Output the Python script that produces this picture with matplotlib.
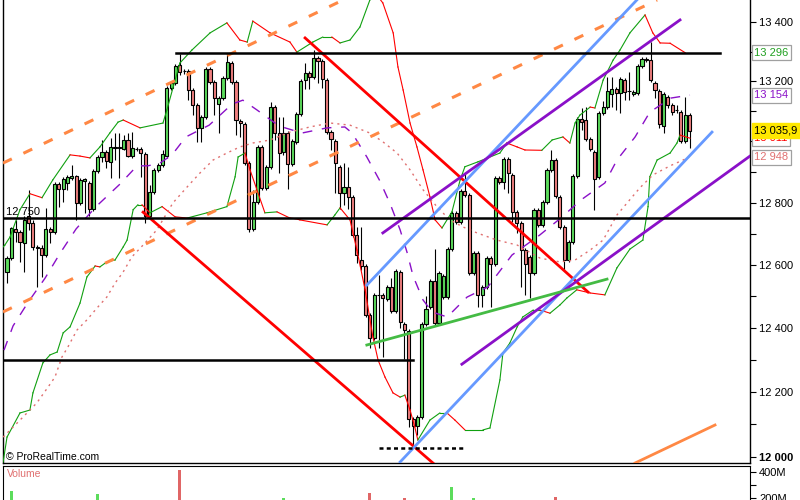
import matplotlib
matplotlib.use("Agg")
import matplotlib.pyplot as plt
from matplotlib.ticker import FixedLocator, NullLocator, NullFormatter

plt.rcParams['font.family'] = ['Liberation Sans', 'DejaVu Sans']

# --- daily candles ---
opens = [
    12577, 12621, 12715, 12706, 12669, 12757, 12734, 12657, 12653, 12631,
    12715, 12706, 12861, 12845, 12864, 12881, 12887, 12799, 12871, 12864,
    12780, 12904, 12949, 12965, 12933, 12982, 12982, 12975, 13005, 12952,
    12975, 12975, 12959, 12757, 12835, 12907, 12923, 12952, 13178, 13194,
    13254, 13234, 13234, 13171, 13120, 13045, 13081, 13241, 13198, 13124,
    13144, 13211, 13261, 13198, 13068, 13058, 12929, 12715, 12803, 12982,
    12848, 12917, 13114, 13028, 12965, 13028, 12926, 12999, 13091, 13204,
    13228, 13214, 13278, 13268, 13204, 13031, 13002, 12917, 12832, 12851,
    12819, 12695, 12615, 12596, 12440, 12368, 12504, 12504, 12491, 12529,
    12453, 12577, 12412, 12390, 12116, 12095, 12122, 12412, 12465, 12548,
    12415, 12497, 12497, 12650, 12767, 12738, 12838, 12825, 12573, 12637,
    12504, 12529, 12621, 12602, 12881, 12868, 12942, 12890, 12770, 12734,
    12647, 12625, 12573, 12777, 12728, 12803, 12907, 12939, 12819, 12721,
    12615, 12673, 12887, 13074, 13071, 13008, 12965, 12884, 13094, 13114,
    13157, 13174, 13161, 13204, 13168, 13157, 13161, 13251, 13275, 13271,
    13194, 13168, 13051, 13147, 13120, 13104, 13097, 13002, 13087]
highs = [
    12628, 12721, 12744, 12712, 12757, 12842, 12744, 12663, 12663, 12783,
    12721, 12868, 12868, 12884, 12890, 12923, 12890, 12881, 12881, 12871,
    12910, 12956, 13005, 12972, 13012, 13028, 13028, 13021, 13028, 13031,
    12982, 12982, 12965, 12858, 12913, 12929, 12972, 13184, 13201, 13258,
    13291, 13241, 13241, 13178, 13127, 13087, 13248, 13248, 13204, 13151,
    13218, 13295, 13268, 13204, 13074, 13064, 12936, 12842, 12988, 12988,
    12923, 13130, 13120, 13081, 13081, 13035, 13008, 13097, 13208, 13261,
    13234, 13305, 13285, 13275, 13211, 13038, 13008, 12923, 12929, 12917,
    12825, 12721, 12721, 12602, 12446, 12510, 12567, 12510, 12535, 12557,
    12586, 12583, 12419, 12396, 12122, 12128, 12419, 12501, 12554, 12650,
    12580, 12570, 12657, 12774, 12774, 12845, 12897, 12832, 12644, 12644,
    12535, 12628, 12628, 12887, 12887, 12949, 12949, 12897, 12777, 12741,
    12653, 12631, 12783, 12783, 12809, 12913, 12972, 12946, 12825, 12728,
    12679, 12894, 13081, 13111, 13114, 13015, 12972, 13101, 13134, 13214,
    13214, 13181, 13214, 13211, 13231, 13171, 13258, 13281, 13281, 13332,
    13201, 13174, 13164, 13154, 13127, 13120, 13104, 13147, 13094]
lows = [
    12541, 12615, 12673, 12609, 12577, 12712, 12647, 12529, 12561, 12625,
    12669, 12699, 12787, 12803, 12842, 12874, 12744, 12793, 12767, 12757,
    12774, 12897, 12933, 12913, 12881, 12939, 12881, 12972, 12949, 12946,
    12969, 12884, 12734, 12750, 12829, 12900, 12917, 12946, 13171, 13188,
    13221, 13224, 13137, 13087, 12999, 12999, 13074, 13191, 13087, 13028,
    13137, 13204, 13191, 13021, 13015, 12923, 12706, 12709, 12796, 12842,
    12842, 12910, 13005, 12897, 12956, 12845, 12920, 12992, 13084, 13174,
    13174, 13208, 13194, 13178, 13025, 12972, 12832, 12780, 12793, 12780,
    12689, 12605, 12583, 12434, 12336, 12362, 12336, 12308, 12485, 12446,
    12446, 12400, 12302, 12092, 12037, 12068, 12116, 12406, 12459, 12409,
    12409, 12491, 12491, 12644, 12731, 12731, 12819, 12567, 12567, 12465,
    12465, 12523, 12465, 12596, 12861, 12845, 12832, 12738, 12702, 12529,
    12504, 12494, 12567, 12721, 12721, 12796, 12900, 12816, 12715, 12583,
    12609, 12666, 12881, 13038, 13002, 12969, 12777, 12877, 13087, 13107,
    13114, 13104, 13094, 13137, 13137, 13151, 13154, 13244, 13264, 13198,
    13144, 13045, 13028, 13111, 13087, 13094, 12995, 12995, 12979]
closes = [
    12621, 12718, 12706, 12673, 12744, 12734, 12657, 12653, 12631, 12715,
    12706, 12861, 12845, 12877, 12884, 12887, 12799, 12874, 12877, 12780,
    12904, 12949, 12965, 12936, 12982, 12980, 12979, 13005, 12952, 12979,
    12976, 12962, 12757, 12835, 12907, 12923, 12959, 13178, 13194, 13251,
    13231, 13233, 13171, 13120, 13045, 13081, 13241, 13198, 13144, 13144,
    13211, 13264, 13198, 13071, 13061, 12929, 12715, 12803, 12982, 12848,
    12917, 13114, 13028, 12962, 13028, 12926, 13002, 13091, 13201, 13228,
    13214, 13278, 13268, 13208, 13031, 13008, 12929, 12832, 12851, 12819,
    12695, 12631, 12596, 12440, 12368, 12504, 12502, 12494, 12529, 12453,
    12580, 12419, 12393, 12116, 12095, 12122, 12412, 12459, 12548, 12415,
    12573, 12564, 12650, 12767, 12738, 12838, 12825, 12573, 12637, 12504,
    12529, 12621, 12602, 12881, 12868, 12942, 12897, 12770, 12734, 12647,
    12602, 12573, 12777, 12728, 12803, 12907, 12939, 12822, 12721, 12615,
    12673, 12887, 13074, 13064, 13008, 12975, 12877, 13094, 13114, 13168,
    13174, 13161, 13208, 13164, 13167, 13164, 13251, 13275, 13271, 13204,
    13171, 13058, 13157, 13120, 13097, 13103, 13002, 13087, 13035.9]

# visible volume bar tips (candle index, volume)
vol_idx = [1, 21, 40, 64, 84, 92, 103, 108, 127]
vol_val = [254e6, 231e6, 415e6, 200e6, 238e6, 200e6, 285e6, 200e6, 208e6]

# bollinger bands and moving averages (vertices)
upper_x = [-0.9, -0.5, 0.7, 3.0, 5.3, 8.1, 10.6, 14.6, 16.9, 19.2, 21.5, 23.8, 25.7, 26.9, 30.8,
           36.1, 37.0, 40.0, 42.8, 47.0, 50.9, 53.9, 55.6, 56.9, 60.9, 65.5, 67.1, 70.8, 73.1, 75.2,
           77.1, 79.4, 81.7, 84.0, 85.6, 87.0, 89.4, 90.5, 91.7, 93.3, 94.9, 96.3, 97.9, 99.1, 100.7,
           103.0, 104.9, 106.0, 109.0, 114.1, 115.7, 118.1, 119.9, 123.8, 126.2, 128.7, 130.3, 131.5,
           132.6, 135.0, 136.1, 138.0, 140.3, 141.9, 144.2, 147.7, 149.5, 151.2, 153.5, 157.0]
upper_y = [12657, 12663, 12689, 12777, 12829, 12816, 12874, 12956, 12952, 12946, 12982, 13028, 13064,
           13071, 13045, 13061, 13104, 13261, 13305, 13363, 13397, 13339, 13332, 13403, 13363, 13332,
           13298, 13332, 13349, 13349, 13329, 13339, 13383, 13475, 13492, 13465, 13363, 13248, 13171,
           13061, 12982, 12907, 12819, 12744, 12718, 12770, 12874, 12917, 12933, 12962, 12995, 12982,
           12972, 12971, 13005, 13015, 12995, 13061, 13087, 13114, 13111, 13204, 13271, 13305, 13363,
           13424, 13363, 13329, 13328, 13296]
lower_x = [-0.9, 0.0, 3.0, 5.3, 6.0, 8.3, 9.95, 11.6, 13.0, 14.6, 16.9, 18.5, 19.7, 20.4, 21.5, 23.1,
           25.0, 26.9, 27.8, 29.2, 30.3, 31.25, 33.1, 35.9, 38.9, 41.7, 46.3, 50.9, 52.8, 53.5, 55.1,
           56.25, 59.7, 62.5, 65.5, 66.7, 67.8, 74.1, 75.9, 77.1, 79.4, 81.0, 82.9, 84.7, 85.9, 87.5,
           89.35, 91.0, 92.1, 93.3, 94.4, 95.1, 97.9, 100.2, 101.85, 103.7, 106.0, 110.2, 111.8, 114.1,
           114.8, 116.4, 118.1, 119.4, 121.8, 123.4, 125.7, 128.0, 129.6, 131.9, 135.0, 138.4, 141.2,
           144.2, 147.2, 148.4, 148.8, 150.5, 153.5, 155.1, 155.8, 158.1]
lower_y = [11985, 12061, 12135, 12144, 12197, 12290, 12315, 12324, 12384, 12403, 12478, 12561, 12583,
           12596, 12593, 12609, 12615, 12657, 12679, 12777, 12793, 12793, 12767, 12787, 12754, 12750,
           12767, 12787, 12884, 12949, 12962, 12907, 12767, 12770, 12750, 12748, 12744, 12728, 12760,
           12783, 12744, 12647, 12520, 12371, 12299, 12246, 12197, 12184, 12190, 12144, 12092, 12052,
           12113, 12135, 12135, 12113, 12083, 12083, 12089, 12237, 12321, 12352, 12403, 12434, 12456,
           12456, 12446, 12472, 12494, 12520, 12510, 12504, 12590, 12650, 12679, 12787, 12884, 12939,
           12962, 12995, 13021, 13011]
pink_x = [-0.9, 3.0, 6.9, 9.5, 11.1, 12.7, 14.1, 16.2, 18.5, 20.8, 23.1, 25.0, 26.9, 28.9, 31.5, 34.7,
          38.4, 41.7, 44.7, 47.7, 50.9, 53.9, 56.9, 60.9, 65.5, 70.1, 74.8, 79.4, 84.0, 87.0, 90.3,
          93.3, 96.3, 99.5, 102.5, 105.6, 108.8, 113.4, 118.1, 123.4, 128.0, 131.5, 135.0, 138.0,
          141.2, 146.5, 149.5, 153.5, 157.9]
pink_y = [12061, 12113, 12166, 12215, 12246, 12308, 12340, 12393, 12425, 12462, 12497, 12541, 12577,
          12625, 12663, 12712, 12799, 12851, 12897, 12939, 12962, 12982, 12995, 13005, 13031, 13048,
          13061, 13054, 13028, 12999, 12962, 12907, 12842, 12787, 12744, 12721, 12702, 12679, 12663,
          12621, 12609, 12615, 12647, 12679, 12760, 12848, 12890, 12920, 12948]
purple_x = [-0.7, 1.4, 4.9, 8.8, 12.3, 16.0, 20.6, 26.2, 30.1, 32.6, 35.4, 38.2, 41.4, 46.8, 52.1, 54.6,
            57.9, 63.0, 68.3, 74.1, 78.2, 79.9, 83.3, 86.3, 88.7, 91.0, 92.6, 94.0, 96.3, 98.4, 101.9,
            106.5, 111.3, 116.9, 123.3, 128.2, 132.9, 138.4, 141.2, 145.4, 148.8, 153.7, 158.1]
purple_y = [12330, 12406, 12481, 12557, 12637, 12715, 12787, 12861, 12920, 12920, 12929, 12956, 13015,
            13054, 13124, 13137, 13104, 13051, 13028, 13045, 13048, 13028, 12949, 12871, 12796, 12712,
            12640, 12564, 12488, 12450, 12434, 12497, 12529, 12631, 12695, 12750, 12809, 12864, 12939,
            13015, 13097, 13144, 13154]

# drawn trend lines: ((x0, p0), (x1, p1))
red_lines = [((69.0, 13346), (134.5, 12513)), ((31.5, 12769), (98.6, 11982))]
orange_dashed = [((-0.93, 12929), (77.8, 13475)), ((-0.93, 12450), (150.5, 13475))]
orange_solid = [((145.4, 11982), (163.9, 12098))]
blue_lines = [((83.3, 12535), (145.8, 13475)), ((91.0, 11985), (163.2, 13031))]
purple_lines = [((87.0, 12702), (155.8, 13407)), ((105.3, 12286), (172.0, 12952))]
green_lines = [((83.3, 12346), (138.9, 12554))]
hlines = [(13296, 39.1, 165.0), (12750, -0.93, 172.0), (12300, -0.93, 94.0)]
dotted_hline = (12028, 86.1, 106.0)

GREEN = '#5cdc5c'
RED = '#f08080'

fig = plt.figure(figsize=(8, 5), dpi=100)
ax = fig.add_axes([3 / 800, 37 / 500, 747 / 800, 463 / 500])
axv = fig.add_axes([3 / 800, 0, 747 / 800, 34 / 500])

idx = list(range(len(opens)))
up = [c >= o for o, c in zip(opens, closes)]
ax.vlines(idx, lows, highs, color='black', lw=0.8, zorder=2)
ax.bar(idx, [abs(c - o) for o, c in zip(opens, closes)], width=0.72,
       bottom=[min(o, c) for o, c in zip(opens, closes)],
       color=[GREEN if u else RED for u in up], edgecolor='black', linewidth=0.8, zorder=3)

# bands: green while rising, red while falling
for bx, by in [(upper_x, upper_y), (lower_x, lower_y)]:
    for k in range(len(bx) - 1):
        col = '#10a010' if by[k + 1] >= by[k] else '#ff0000'
        ax.plot(bx[k:k + 2], by[k:k + 2], color=col, lw=0.8, zorder=4)

ax.plot(pink_x, pink_y, color='#e07070', lw=1.0, ls=(0, (1.5, 3)), zorder=4)
ax.plot(purple_x, purple_y, color='#8a10c8', lw=1.0, ls=(0, (7, 7)), zorder=4)

for (a, b) in orange_dashed:
    ax.plot([a[0], b[0]], [a[1], b[1]], color='#ff8844', lw=2.2, ls=(0, (3.2, 4.2)),
            dash_capstyle='butt', zorder=5)
for (a, b) in orange_solid:
    ax.plot([a[0], b[0]], [a[1], b[1]], color='#ff8844', lw=2.0, zorder=5)
for lines, col in [(red_lines, '#ff0000'), (blue_lines, '#6699ff'),
                   (purple_lines, '#8a10c8'), (green_lines, '#44bb44')]:
    for (a, b) in lines:
        ax.plot([a[0], b[0]], [a[1], b[1]], color=col, lw=2.0, zorder=5)
for (p, x0, x1) in hlines:
    ax.plot([x0, x1], [p, p], color='black', lw=1.8, zorder=5)
ax.plot([dotted_hline[1], dotted_hline[2]], [dotted_hline[0]] * 2, color='black', lw=1.8,
        ls=(0, (1.6, 1.3)), zorder=5)

ax.set_yscale('log')
ax.set_ylim(11982, 13475)
ax.set_xlim(-0.93, 172.0)
ax.set_xticks([])
ax.yaxis.tick_right()
ticks = list(range(12000, 13401, 100))
names = {13400: '13 400', 13200: '13 200', 12800: '12 800', 12600: '12 600',
         12400: '12 400', 12200: '12 200', 12000: '12 000'}
ax.yaxis.set_major_locator(FixedLocator(ticks))
ax.yaxis.set_minor_locator(NullLocator())
ax.yaxis.set_minor_formatter(NullFormatter())
ax.set_yticklabels([names.get(t, '') for t in ticks])
for lab, t in zip(ax.get_yticklabels(), ticks):
    if t == 12000:
        lab.set_fontweight('bold')
ax.tick_params(axis='y', direction='out', length=4, width=0.8, pad=2.5, labelsize=8)
ax.spines['top'].set_visible(False)
for s in ['left', 'right', 'bottom']:
    ax.spines[s].set_linewidth(1.0)

trans = ax.get_yaxis_transform()
boxkw = dict(boxstyle='square,pad=0.22', fc='white', ec='#a0a0a0', lw=0.9)
ax.text(1.006, 13296, '13 296', transform=trans, color='#20a020', fontsize=8, va='center',
        bbox=boxkw, clip_on=False, zorder=6)
ax.text(1.006, 13154, '13 154', transform=trans, color='#8a10c8', fontsize=8, va='center',
        bbox=boxkw, clip_on=False, zorder=6)
ax.text(1.006, 13011, '13 011', transform=trans, color='#ff0000', fontsize=8, va='center',
        bbox=boxkw, clip_on=False, zorder=6)
ax.text(1.006, 12948, '12 948', transform=trans, color='#e07070', fontsize=8, va='center',
        bbox=boxkw, clip_on=False, zorder=6)
ax.text(1.006, closes[-1], '13 035,9', transform=trans, color='black', fontsize=8, va='center',
        bbox=dict(boxstyle='square,pad=0.25', fc='#ffe800', ec='#ffe800'), clip_on=False, zorder=7)

ax.text(0.004, 12752, '12 750', transform=trans, fontsize=8, va='bottom', zorder=6)
ax.text(0.004, 0.012, '© ProRealTime.com', transform=ax.transAxes, fontsize=7.5, va='center', zorder=6)

# volume panel
axv.bar(vol_idx, vol_val, width=0.7, color=[GREEN if up[i] else '#e06666' for i in vol_idx])
axv.set_xlim(-0.93, 172.0)
axv.set_ylim(185e6, 446e6)
axv.set_xticks([])
axv.yaxis.tick_right()
axv.set_yticks([200e6, 300e6, 400e6])
axv.set_yticklabels(['200M', '', '400M'])
axv.tick_params(axis='y', direction='out', length=4, width=0.8, pad=2.5, labelsize=8)
axv.spines['bottom'].set_visible(False)
axv.text(0.005, 0.76, 'Volume', transform=axv.transAxes, color='#e07070', fontsize=7.5, va='center')

fig.savefig('out.png', dpi=100)
